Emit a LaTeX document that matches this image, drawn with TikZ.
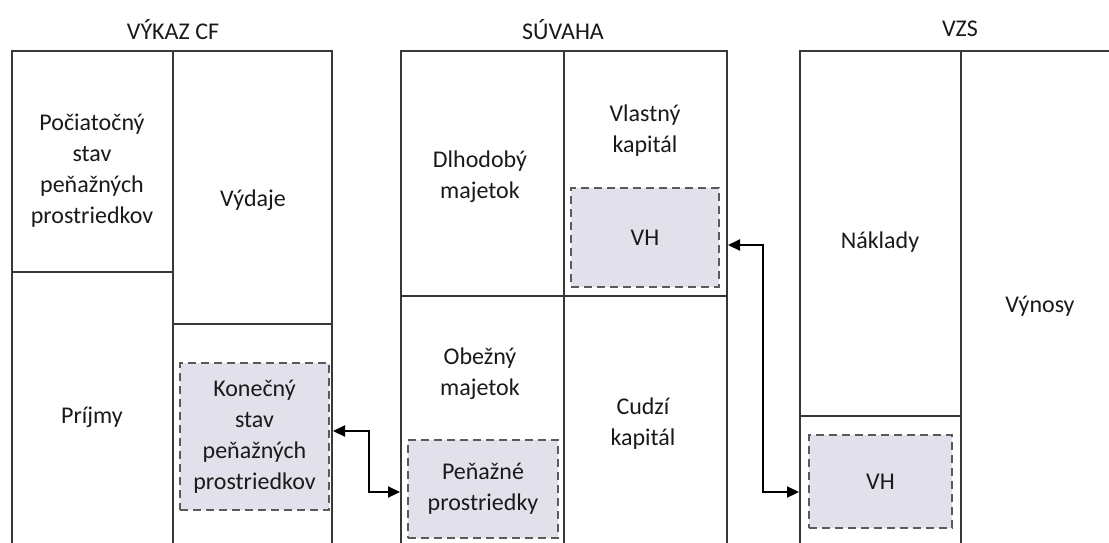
\documentclass[tikz,border=0pt]{standalone}
\usepackage{fontspec}
\setmainfont{Carlito}
\usetikzlibrary{arrows.meta}
\definecolor{frame}{HTML}{383838}
\definecolor{dashc}{HTML}{5A5A5A}
\definecolor{boxfill}{HTML}{E2E0EA}
\definecolor{txt}{HTML}{1A1A1A}
\tikzset{
  frameline/.style={draw=frame, line width=2.4pt},
  lbl/.style={text=txt, align=center, inner sep=0pt, font=\fontsize{24}{31}\selectfont},
  title/.style={text=txt, inner sep=0pt, font=\fontsize{24}{28}\selectfont},
  vhbox/.style={draw=dashc, fill=boxfill, line width=2.8pt, dash pattern=on 8pt off 5pt,
     align=center, text=txt, inner sep=0pt, font=\fontsize{24}{31}\selectfont},
  conn/.style={draw=black, line width=2.2pt, {Triangle[length=12pt,width=11pt]}-{Triangle[length=12pt,width=11pt]}}
}
\begin{document}
\begin{tikzpicture}[x=1pt,y=-1pt]
\useasboundingbox (0,0) rectangle (1109,542);
\fill[white] (0,0) rectangle (1109,542);
% titles
\node[title] (tcf) at (173,30) {VÝKAZ CF};
\node[title] (tsuv) at (563,30) {SÚVAHA};
\node[title] (tvzs) at (960,29) {VZS};
% VÝKAZ CF frame
\draw[frameline] (12,560) -- (12,51) -- (332,51) -- (332,560);
\draw[frameline] (173,51) -- (173,560);
\draw[frameline] (12,272) -- (173,272);
\draw[frameline] (173,324) -- (332,324);
% SÚVAHA frame
\draw[frameline] (401,560) -- (401,51) -- (727,51) -- (727,560);
\draw[frameline] (564,51) -- (564,560);
\draw[frameline] (401,296) -- (727,296);
% VZS frame
\draw[frameline] (800,560) -- (800,51) -- (1115,51);
\draw[frameline] (961,51) -- (961,560);
\draw[frameline] (800,416) -- (961,416);
% frame edge coordinates for connectors
\coordinate (cfR) at (333,431);
\coordinate (suvL) at (400,492);
\coordinate (suvR) at (728,245);
\coordinate (vzsL) at (799,492);
% labels
\node[lbl] (poc) at (92,171) {Počiatočný\\stav\\peňažných\\prostriedkov};
\node[lbl] (vyd) at (253,200) {Výdaje};
\node[lbl] (pri) at (92,417) {Príjmy};
\node[vhbox, minimum width=149pt, minimum height=147pt] (kon) at (254.5,436.5) {Konečný\\stav\\peňažných\\prostriedkov};
\node[lbl] (dlh) at (480,177) {Dlhodobý\\majetok};
\node[lbl] (vk) at (645,131) {Vlastný\\kapitál};
\node[vhbox, minimum width=148pt, minimum height=99pt] (vh1) at (645,237.5) {VH};
\node[lbl] (obe) at (480,374) {Obežný\\majetok};
\node[lbl] (cud) at (643,424) {Cudzí\\kapitál};
\node[vhbox, minimum width=150pt, minimum height=98pt] (pen) at (483,489) {Peňažné\\prostriedky};
\node[lbl] (nak) at (880,242) {Náklady};
\node[lbl] (vyn) at (1040,306) {Výnosy};
\node[vhbox, minimum width=143pt, minimum height=93pt] (vh2) at (880.5,481.5) {VH};
% connectors
\draw[conn] (cfR) -- (369,431) -- (369,492) -- (suvL);
\draw[conn] (suvR) -- (763,245) -- (763,492) -- (vzsL);
\end{tikzpicture}
\end{document}
